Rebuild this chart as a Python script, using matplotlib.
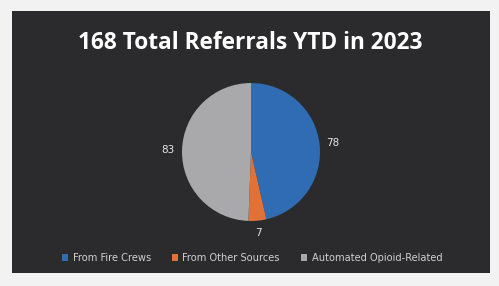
import matplotlib
matplotlib.use("Agg")
import matplotlib.pyplot as plt
from matplotlib.patches import Rectangle

# Data
labels = ["From Fire Crews", "From Other Sources", "Automated Opioid-Related"]
values = [78, 7, 83]
colors = ["#2f6cb3", "#e07238", "#a9a9ab"]
title = "168 Total Referrals YTD in 2023"

W, H = 499, 286
fig = plt.figure(figsize=(W / 100, H / 100), dpi=100)
fig.patch.set_facecolor("#f2f2f2")

# dark slide panel
bg = fig.add_axes([0, 0, 1, 1])
bg.set_xlim(0, W)
bg.set_ylim(H, 0)
bg.axis("off")
bg.add_patch(Rectangle((12, 11), 478, 262, facecolor="#2b2b2d", edgecolor="none"))

fig.text(250 / W, 1 - 43 / H, title, ha="center", va="center",
         color="white", fontsize=16.3, fontweight="bold", family="Open Sans")

# pie
cx, cy, r = 251, 152, 69
ax = fig.add_axes([(cx - r) / W, 1 - (cy + r) / H, 2 * r / W, 2 * r / H])
wedges, _ = ax.pie(values, colors=colors, startangle=90, counterclock=False,
                   wedgeprops=dict(linewidth=0))
ax.set_aspect("auto")
ax.set_xlim(-1, 1)
ax.set_ylim(-1, 1)

# value labels outside wedges
for pos, v in zip([(333, 143), (258, 233), (168, 150)], values):
    fig.text(pos[0] / W, 1 - pos[1] / H, str(v), ha="center", va="center",
             color="#e6e6e6", fontsize=7.5)

# legend
handles = [Rectangle((0, 0), 1, 1, facecolor=c, edgecolor="none") for c in colors]
leg = fig.legend(handles, labels, loc="center", bbox_to_anchor=(252 / W, 1 - 258 / H),
                 ncol=3, frameon=False, fontsize=7.1, handlelength=0.65,
                 handleheight=0.65, handletextpad=0.45, columnspacing=2.1)
for t in leg.get_texts():
    t.set_color("#d0d0d0")

fig.savefig("out.png", dpi=100, facecolor=fig.get_facecolor())
